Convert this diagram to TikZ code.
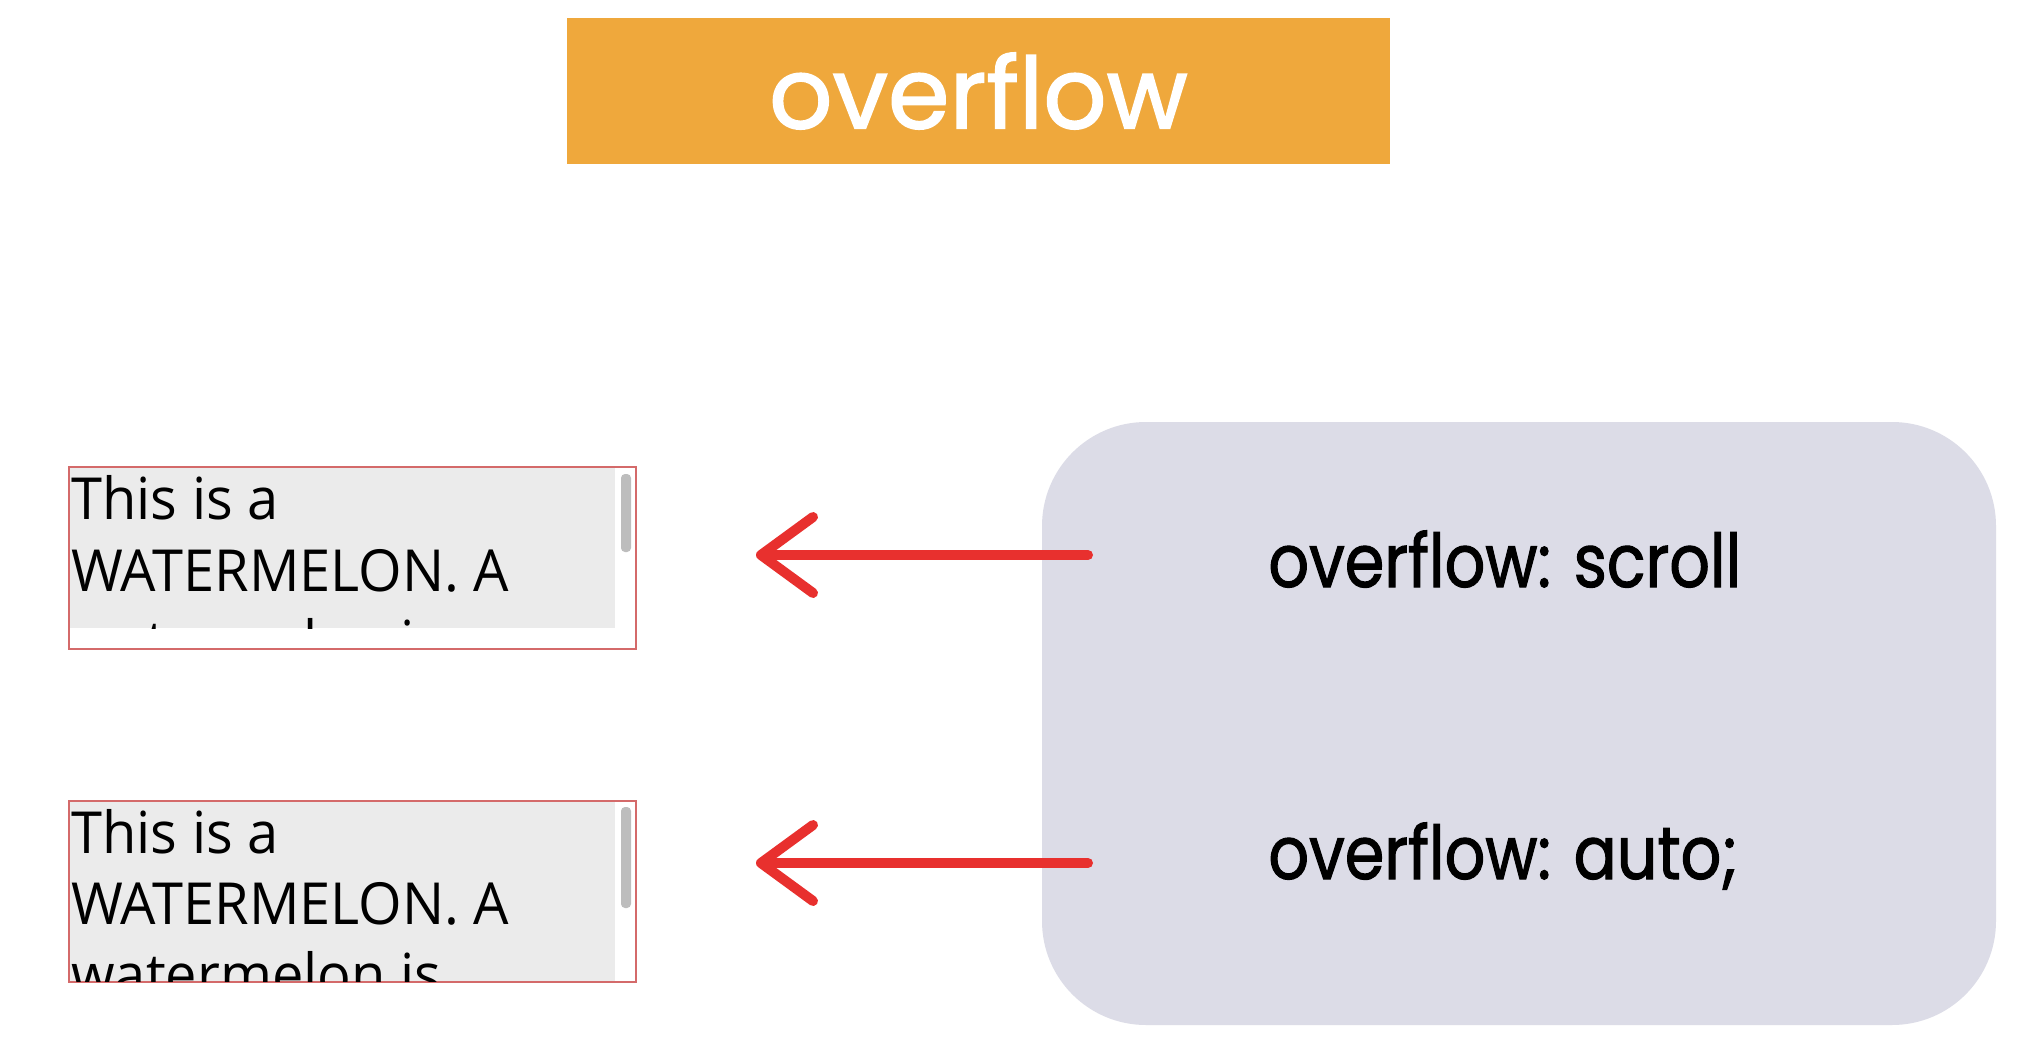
\documentclass[tikz,border=0pt]{standalone}
\usepackage{fontspec}
\setmainfont[FakeStretch=0.965]{Open Sans}
\newfontfamily\popfont[FakeBold=1.6]{Poppins}
\newfontfamily\codefont[FakeStretch=0.86,FakeBold=1.4]{Poppins}
\usetikzlibrary{arrows.meta}
\definecolor{titleorange}{HTML}{EFA83C}
\definecolor{panelgray}{HTML}{DCDCE7}
\definecolor{boxfill}{HTML}{EBEBEB}
\definecolor{boxborder}{HTML}{D46A6A}
\definecolor{thumbgray}{HTML}{BDBDBD}
\definecolor{crayon}{HTML}{E8302E}
\begin{document}
\begin{tikzpicture}[x=0.5pt,y=-0.5pt,
  boxline/.style={anchor=base west,inner sep=0pt,font=\fontsize{29}{35}\selectfont},
  codeline/.style={anchor=base west,inner sep=0pt,font=\codefont\fontsize{37}{44}\selectfont},
  redarrow/.style={draw=crayon,line width=5pt,line cap=round,line join=round,
     -{Straight Barb[length=26pt,width=38pt,round]}}]
\useasboundingbox (0,0) rectangle (2035,1060);
\fill[white] (0,0) rectangle (2035,1060);
% title
\node[fill=titleorange,minimum width=411.5pt,minimum height=73pt,inner sep=0pt,
  text=white,font=\popfont\fontsize{49.5}{56}\selectfont] (title) at (978.5,91) {overflow};
% panel
\node[fill=panelgray,rounded corners=52pt,minimum width=477pt,minimum height=301.5pt,inner sep=0pt] (panel) at (1519,723.5) {};
\node[codeline] (scrolltxt) at (1268,587) {overflow: scroll};
\node[codeline] (autotxt) at (1268,879) {overflow: auto;};
% box 1 (scroll)
\node[draw=boxborder,line width=0.7pt,fill=white,minimum width=283.5pt,minimum height=91pt,inner sep=0pt] (box1) at (352.5,558) {};
\fill[boxfill] (70,468) rectangle (615,628);
\begin{scope}
\clip (70,468) rectangle (615,628);
\node[boxline] (b1a) at (71,519) {This is a};
\node[boxline] (b1b) at (71,591) {WATERMELON. A};
\node[boxline] (b1c) at (71,662) {watermelon is};
\end{scope}
\fill[thumbgray,rounded corners=2pt] (621,474) rectangle (631,552);
% box 2 (auto)
\node[draw=boxborder,line width=0.7pt,fill=white,minimum width=283.5pt,minimum height=90.5pt,inner sep=0pt] (box2) at (352.5,891.5) {};
\fill[boxfill] (70,802) rectangle (615,981);
\begin{scope}
\clip (70,802) rectangle (635,981);
\node[boxline] (b2a) at (71,853) {This is a};
\node[boxline] (b2b) at (71,924) {WATERMELON. A};
\node[boxline] (b2c) at (71,995) {watermelon is};
\end{scope}
\fill[thumbgray,rounded corners=2pt] (621,807) rectangle (631,908);
% arrows
\coordinate (t1) at (1088,555);
\coordinate (h1) at (756,555);
\coordinate (t2) at (1088,863);
\coordinate (h2) at (756,863);
\draw[redarrow] (t1) -- (h1);
\draw[redarrow] (t2) -- (h2);
\end{tikzpicture}
\end{document}
